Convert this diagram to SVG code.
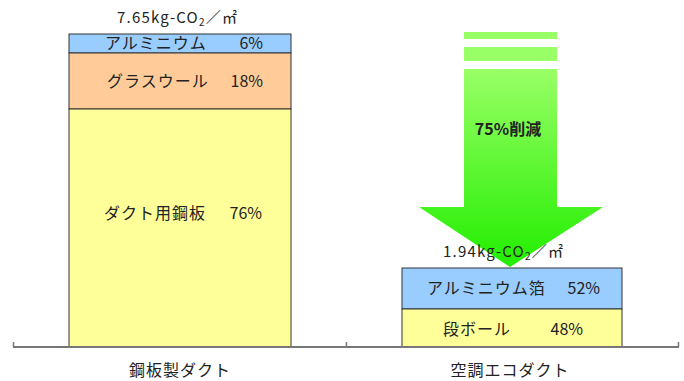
<svg xmlns="http://www.w3.org/2000/svg" width="684" height="381" viewBox="0 0 684 381">
<defs>
<linearGradient id="arrowGrad" x1="0" y1="0" x2="0" y2="1">
<stop offset="0" stop-color="#99FF66"/>
<stop offset="1" stop-color="#22EE00"/>
</linearGradient>
</defs>
<style>
text{font-family:"Noto Sans CJK JP","Noto Sans",sans-serif;fill:#222;}
.lbl{font-size:16px;letter-spacing:1px;}
.pct{font-size:16px;text-anchor:end;}
.tot{font-size:15px;letter-spacing:1.2px;}
.bar{stroke:#333;stroke-width:1;}
.alu{fill:#99CCFF;}
.gw{fill:#FFCC99;}
.yel{fill:#FFFF99;}
.axis{stroke:#777;fill:none;}
</style>
<rect width="684" height="381" fill="#fff"/>
<g id="arrow">
<rect x="464" y="32" width="93" height="7" fill="#99FF66"/>
<rect x="464" y="47" width="93" height="14" fill="#99FF66"/>
<path d="M464 69 H557 V207 H603 L510 267 L419 207 H464 Z" fill="url(#arrowGrad)"/>
<text x="508" y="135" style="font-size:16px;font-weight:bold" text-anchor="middle">75%削減</text>
</g>
<g id="steel-duct">
<rect class="bar alu" x="69" y="34" width="222" height="19"/>
<rect class="bar gw" x="69" y="53" width="222" height="56"/>
<rect class="bar yel" x="69" y="109" width="222" height="238"/>
<text class="tot" x="117" y="23">7.65kg-CO<tspan dy="3" font-size="10">2</tspan><tspan dy="-3">／㎡</tspan></text>
<text class="lbl" x="105" y="49">アルミニウム</text>
<text class="pct" x="263" y="49">6%</text>
<text class="lbl" x="107" y="87">グラスウール</text>
<text class="pct" x="263" y="87">18%</text>
<text class="lbl" x="104" y="219">ダクト用鋼板</text>
<text class="pct" x="262" y="219">76%</text>
</g>
<g id="eco-duct">
<rect class="bar alu" x="402" y="268" width="220" height="41"/>
<rect class="bar yel" x="402" y="309" width="220" height="38"/>
<text class="tot" x="443" y="257">1.94kg-CO<tspan dy="3" font-size="10">2</tspan><tspan dy="-3">／㎡</tspan></text>
<text class="lbl" x="427" y="294">アルミニウム箔</text>
<text class="pct" x="600" y="294">52%</text>
<text class="lbl" x="443" y="335">段ボール</text>
<text class="pct" x="583" y="335">48%</text>
</g>
<g id="axis">
<path class="axis" d="M13 347 H679" stroke-width="2"/>
<path class="axis" d="M13.5 342 V347 M346.5 342 V347 M678.5 342 V347" stroke-width="1.5"/>
<text class="lbl" x="180" y="376" text-anchor="middle">鋼板製ダクト</text>
<text class="lbl" x="510" y="376" text-anchor="middle">空調エコダクト</text>
</g>
</svg>
